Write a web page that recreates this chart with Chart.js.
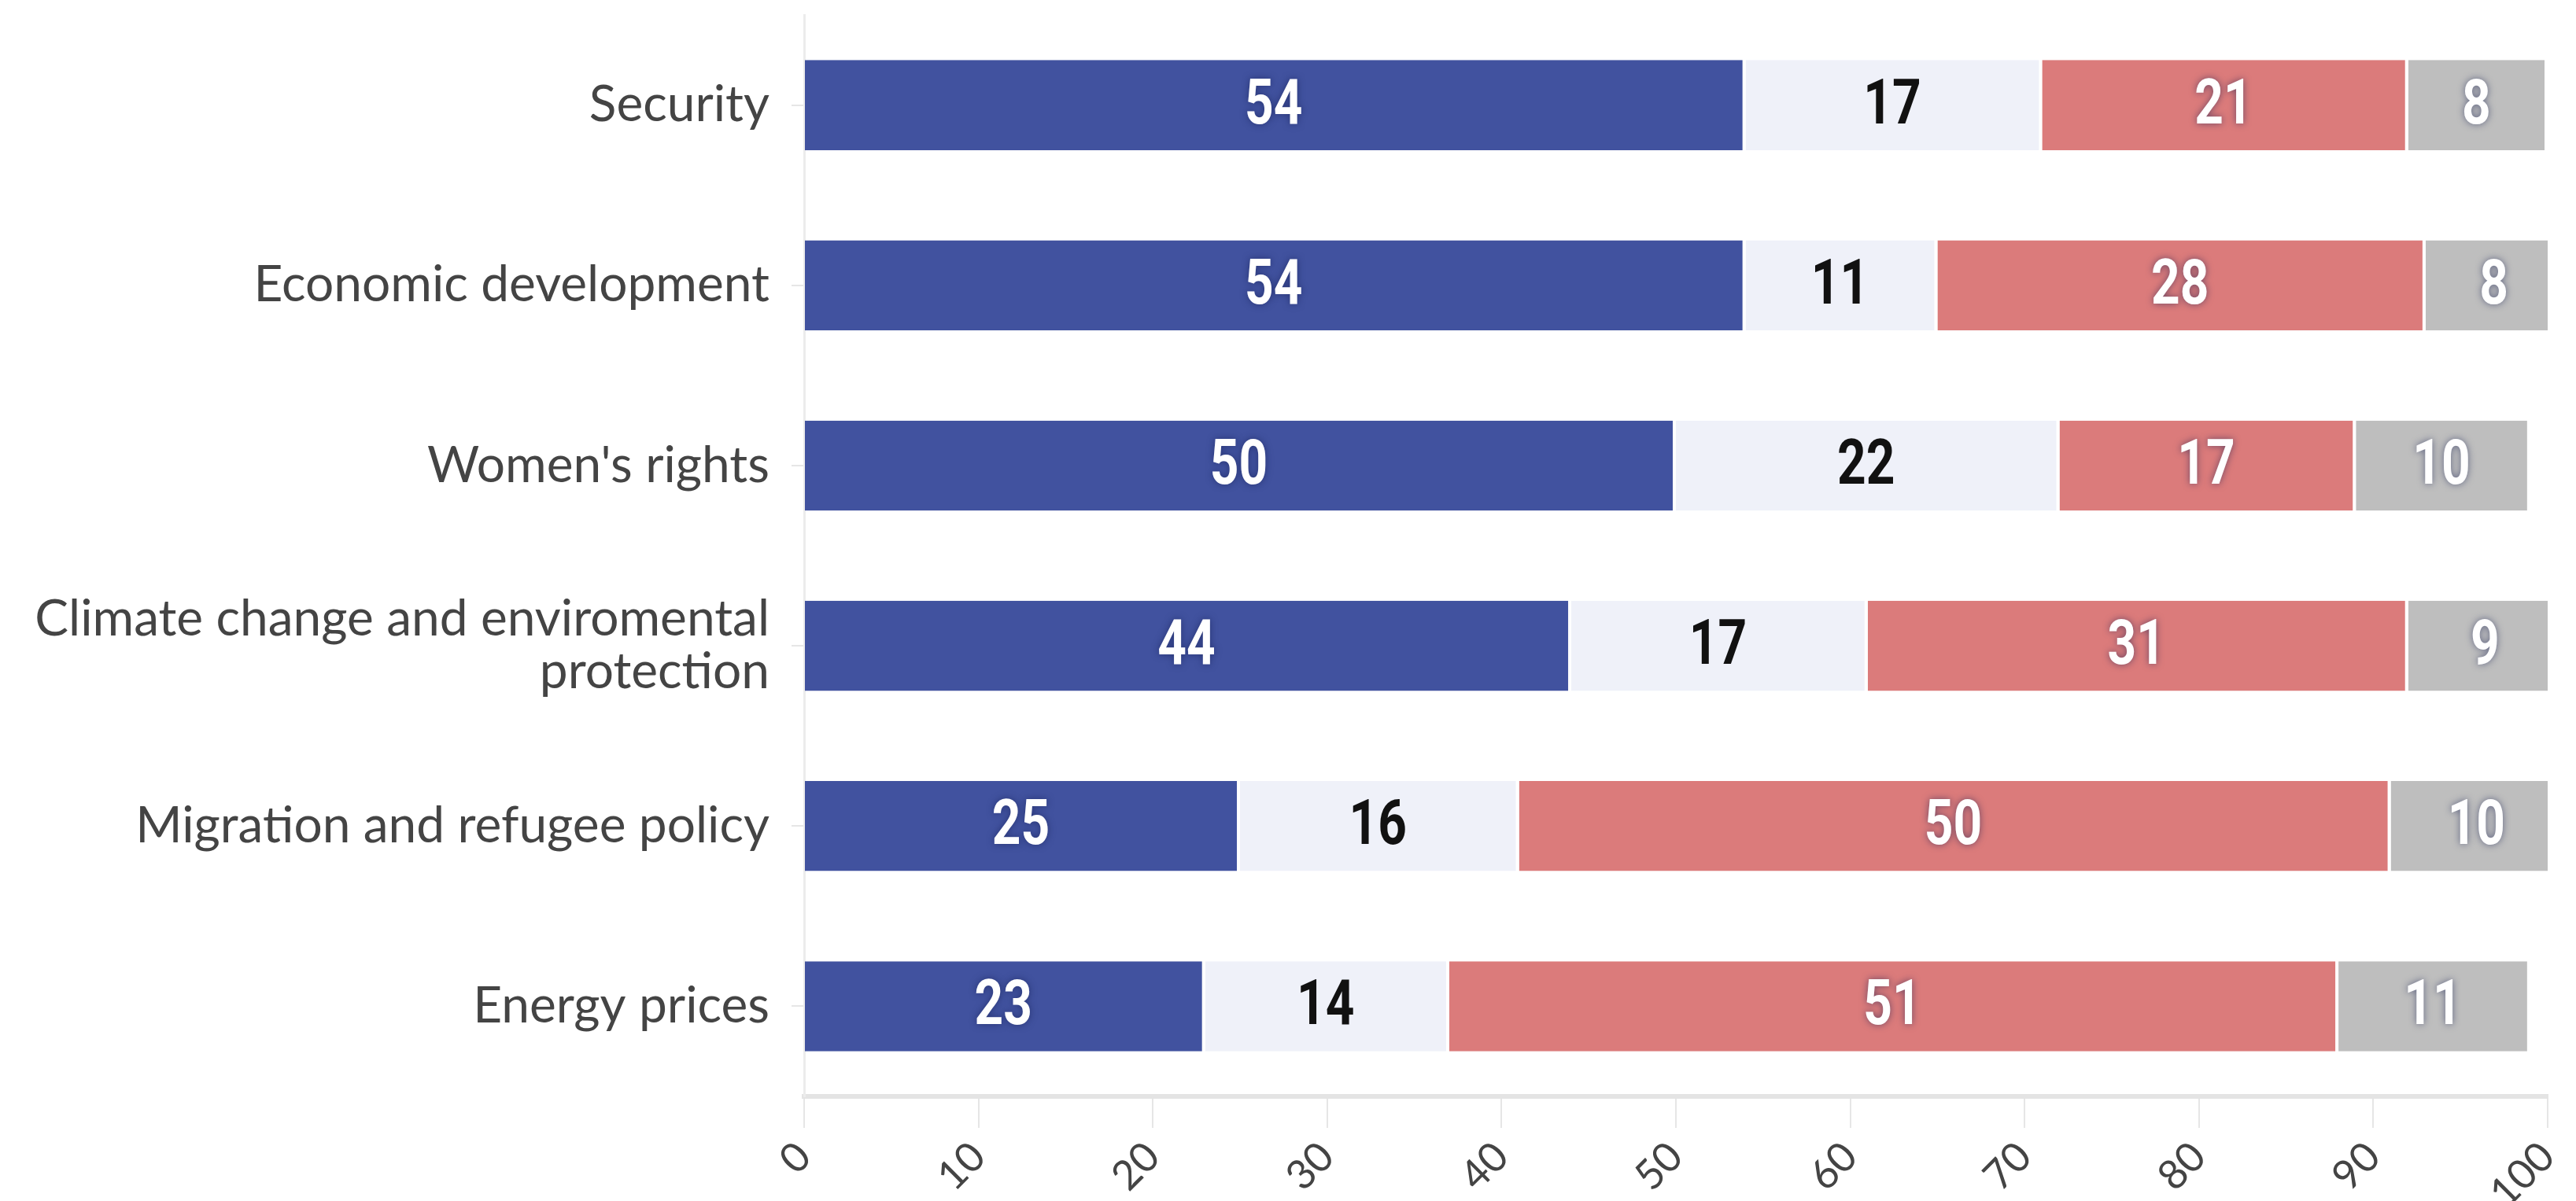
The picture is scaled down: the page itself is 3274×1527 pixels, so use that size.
<!DOCTYPE html>
<html>
<head>
<meta charset="utf-8">
<script src="https://cdn.jsdelivr.net/npm/chart.js@4.4.0/dist/chart.umd.min.js"></script>
<style>
  html, body { margin: 0; padding: 0; background: #fff; }
  #chart { display: block; }
</style>
</head>
<body>
<canvas id="chart" width="3274" height="1527"></canvas>
<script>
// Data
const categories = [
    'Security',
    'Economic development',
    "Women's rights",
    ['Climate change and enviromental', 'protection'],
    'Migration and refugee policy',
    'Energy prices'
];
const blueValues  = [54, 54, 50, 44, 25, 23];
const lightValues = [17, 11, 22, 17, 16, 14];
const redValues   = [21, 28, 17, 31, 50, 51];
const greyValues  = [8, 8, 10, 9, 10, 11];
const xTicks = [0, 10, 20, 30, 40, 50, 60, 70, 80, 90, 100];

// Draws the number in the middle of each bar segment (condensed look via x-scale)
const segmentLabels = {
    id: 'segmentLabels',
    afterDatasetsDraw(chart) {
        const ctx = chart.ctx;
        chart.data.datasets.forEach((ds, i) => {
            const meta = chart.getDatasetMeta(i);
            meta.data.forEach((bar, j) => {
                const { x, y, base } = bar.getProps(['x', 'y', 'base'], true);
                const cx = (x + base) / 2 - 2;
                ctx.save();
                ctx.translate(cx, y + 3);
                ctx.scale(0.8, 1);
                ctx.font = 'bold 80px Roboto, "DejaVu Sans", sans-serif';
                ctx.textAlign = 'center';
                ctx.textBaseline = 'middle';
                if (ds.darkLabel) {
                    ctx.fillStyle = '#111111';
                } else {
                    ctx.fillStyle = '#ffffff';
                    ctx.shadowColor = 'rgba(20, 30, 80, 0.55)';
                    ctx.shadowBlur = 10;
                }
                ctx.fillText(String(ds.data[j]), 0, 0);
                ctx.restore();
            });
        });
    }
};

function makeSet(label, data, color, darkLabel) {
    return {
        label: label,
        data: data,
        backgroundColor: color,
        borderColor: '#ffffff',
        borderWidth: { left: 0, right: 4, top: 0, bottom: 0 },
        borderSkipped: false,
        barPercentage: 0.5,
        categoryPercentage: 1.0,
        darkLabel: darkLabel
    };
}

const ctx = document.getElementById('chart').getContext('2d');
new Chart(ctx, {
    type: 'bar',
    data: {
        labels: categories,
        datasets: [
            makeSet('blue', blueValues, '#41529f', false),
            makeSet('light', lightValues, '#eff1f9', true),
            makeSet('red', redValues, '#db7b7b', false),
            makeSet('grey', greyValues, '#bebebe', false)
        ]
    },
    options: {
        indexAxis: 'y',
        responsive: false,
        animation: false,
        layout: { padding: { top: 19, right: 36, left: 0, bottom: 0 } },
        plugins: {
            legend: { display: false },
            tooltip: { enabled: false }
        },
        scales: {
            x: {
                stacked: true,
                min: 0,
                max: 100,
                afterBuildTicks: axis => { axis.ticks = xTicks.map(v => ({ value: v })); },
                afterFit: scale => {
                    scale.height = 133;
                    scale.paddingRight = 0;
                },
                grid: {
                    drawOnChartArea: false,
                    drawTicks: true,
                    tickLength: 40,
                    color: '#e6e6e6',
                    lineWidth: 2
                },
                border: { color: '#e4e4e4', width: 6 },
                ticks: {
                    minRotation: 45,
                    maxRotation: 45,
                    padding: 6,
                    color: '#444444',
                    font: { family: 'Lato', size: 52 }
                }
            },
            y: {
                stacked: true,
                afterFit: scale => {
                    scale.width = 1022;
                    scale.paddingTop = 0;
                    scale.paddingBottom = 0;
                },
                grid: {
                    drawOnChartArea: false,
                    offset: false,
                    tickLength: 16,
                    color: '#e6e6e6',
                    lineWidth: 2
                },
                border: { color: '#ececec', width: 3 },
                ticks: {
                    padding: 28,
                    color: '#444444',
                    font: { family: 'Lato', size: 64, lineHeight: 1.05 }
                }
            }
        }
    },
    plugins: [segmentLabels]
});
</script>
</body>
</html>
